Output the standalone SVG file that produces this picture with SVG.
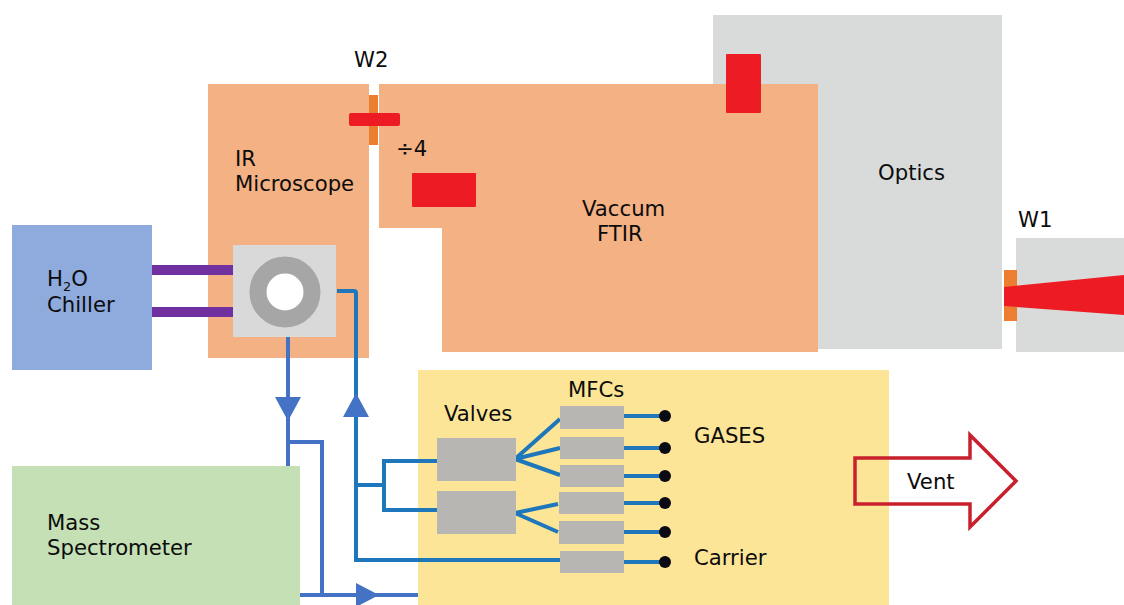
<svg xmlns="http://www.w3.org/2000/svg" width="1124" height="605" viewBox="0 0 1124 605">
<style>
text{font-family:"DejaVu Sans","Liberation Sans",sans-serif;font-size:21.2px;fill:#0c0c0c}
.orange{fill:#f4b183}.light{fill:#d9dbda}.red{fill:#ed1c24}.win{fill:#ed7d31}
.mfc{fill:#b8b6b2}
.b{fill:none;stroke:#1f77bb;stroke-width:4}
.i{fill:none;stroke:#4472c4;stroke-width:4}
.p{fill:none;stroke:#7030a0;stroke-width:10}
.d{fill:#0a0a14}
</style>
<rect width="1124" height="605" fill="#fff"/>
<g id="optics"><rect class="light" x="713" y="15" width="289" height="334"/><text x="878" y="180">Optics</text></g>
<g id="ftir"><path class="orange" d="M379 84H818V352H442V228H379Z"/><text x="582" y="216">Vaccum</text><text x="597" y="241">FTIR</text><rect class="red" x="726" y="54" width="35" height="59" rx="1"/><rect class="red" x="412" y="173" width="64" height="34" rx="1"/><text x="396" y="156">÷4</text></g>
<g id="microscope"><rect class="orange" x="208" y="84" width="161" height="274"/><text x="235" y="166">IR</text><text x="235" y="191">Microscope</text></g>
<g id="w2"><text x="354" y="67">W2</text><rect class="win" x="369" y="95" width="9" height="50"/><rect class="red" x="349" y="113" width="51" height="13" rx="2"/></g>
<g id="w1"><rect class="light" x="1016" y="238" width="108" height="114"/><rect class="win" x="1004" y="270" width="13" height="51"/><path class="red" d="M1004 287L1124 275V315L1004 306Z"/><text x="1018" y="227">W1</text></g>
<g id="chiller"><rect x="12" y="225" width="140" height="145" fill="#8faadc"/><text x="47" y="286">H<tspan font-size="13" dy="5">2</tspan><tspan dy="-5">O</tspan></text><text x="47" y="312">Chiller</text></g>
<g id="spectrometer"><rect x="12" y="466" width="288" height="139" fill="#c5e0b4"/><text x="47" y="530">Mass</text><text x="47" y="555">Spectrometer</text></g>
<g id="gas-panel"><rect x="418" y="370" width="471" height="235" fill="#fde598"/><text x="444" y="421">Valves</text><text x="568" y="397">MFCs</text><text x="694" y="443">GASES</text><text x="694" y="565">Carrier</text></g>
<g id="connectors">
<path class="p" d="M152 270H233M152 312H233"/>
<path class="i" d="M288 337V466M288 442H322V595M300 595H418"/>
<path fill="#4472c4" d="M275 397H301L288 421ZM356 583L379 595L356 607Z"/>
<path class="b" d="M337 291H354Q356 291 356 293V560H560M356 485H384M438 461H384V510H438"/>
<path fill="#4472c4" d="M343 417H369L356 393Z"/>
<path class="b" d="M560 419L515 459L560 448M515 459L560 475M558 504L515 513L558 532"/>
<path class="b" d="M624 416H664M624 448H664M624 476H664M624 503H664M624 532H664M624 562H664"/>
</g>
<g id="chamber"><rect x="233" y="245" width="103" height="92" fill="#d9d9d9"/><circle cx="285" cy="292" r="27" fill="#fff" stroke="#a6a6a6" stroke-width="17"/></g>
<g id="valves"><rect class="mfc" x="437" y="438" width="79" height="43"/><rect class="mfc" x="437" y="491" width="79" height="43"/></g>
<g id="mfcs"><rect class="mfc" x="560" y="406" width="64" height="23"/><rect class="mfc" x="560" y="437" width="64" height="22"/><rect class="mfc" x="560" y="465" width="64" height="22"/><rect class="mfc" x="559" y="492" width="65" height="22"/><rect class="mfc" x="559" y="521" width="65" height="23"/><rect class="mfc" x="560" y="551" width="64" height="22"/></g>
<g id="gas-inlets"><circle class="d" cx="665" cy="416" r="6"/><circle class="d" cx="665" cy="448" r="6"/><circle class="d" cx="665" cy="476" r="6"/><circle class="d" cx="665" cy="503" r="6"/><circle class="d" cx="665" cy="532" r="6"/><circle class="d" cx="665" cy="562" r="6"/></g>
<g id="vent"><path d="M855 458H970V435L1016 481L970 527V504H855Z" fill="none" stroke="#c8202c" stroke-width="3.5"/><text x="907" y="489">Vent</text></g>
</svg>
